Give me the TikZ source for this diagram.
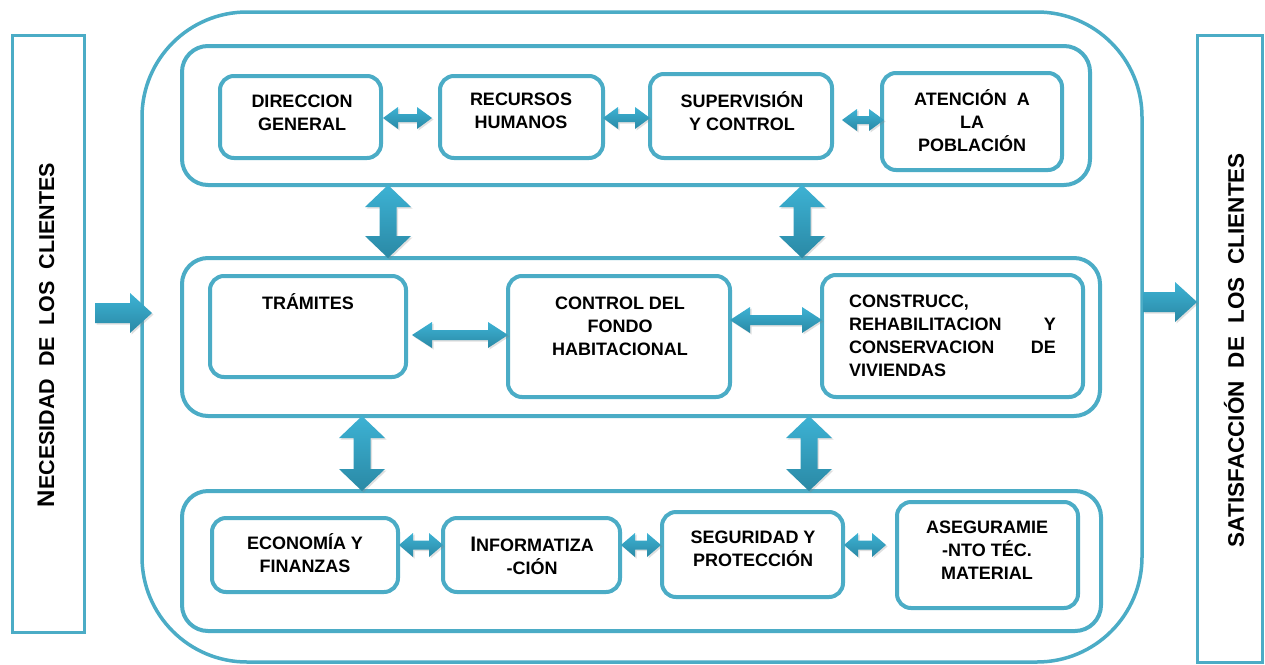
\documentclass[tikz,border=0pt]{standalone}
\usepackage{fontspec}
\setmainfont{Liberation Sans}
\usetikzlibrary{calc,shadows}
\definecolor{boxc}{HTML}{4BACC6}
\definecolor{arrtop}{HTML}{3DB2D4}
\definecolor{arrbot}{HTML}{2A89A5}

% horizontal double block arrow: #1 left end, #2 right end (y of #1 used), #3 half shaft, #4 half head, #5 head length
\newcommand\hdbl[5]{%
 \path[blockarrow] let \p1=(#1), \p2=(#2) in
 (\x1,\y1) -- ({\x1+#5pt},{\y1+#4pt}) -- ({\x1+#5pt},{\y1+#3pt}) -- ({\x2-#5pt},{\y1+#3pt}) -- ({\x2-#5pt},{\y1+#4pt}) -- (\x2,\y1) -- ({\x2-#5pt},{\y1-#4pt}) -- ({\x2-#5pt},{\y1-#3pt}) -- ({\x1+#5pt},{\y1-#3pt}) -- ({\x1+#5pt},{\y1-#4pt}) -- cycle;}
% vertical double block arrow: #1 top end, #2 bottom end (x of #1 used)
\newcommand\vdbl[5]{%
 \path[blockarrow] let \p1=(#1), \p2=(#2) in
 (\x1,\y1) -- ({\x1+#4pt},{\y1-#5pt}) -- ({\x1+#3pt},{\y1-#5pt}) -- ({\x1+#3pt},{\y2+#5pt}) -- ({\x1+#4pt},{\y2+#5pt}) -- (\x1,\y2) -- ({\x1-#4pt},{\y2+#5pt}) -- ({\x1-#3pt},{\y2+#5pt}) -- ({\x1-#3pt},{\y1-#5pt}) -- ({\x1-#4pt},{\y1-#5pt}) -- cycle;}
% single right-pointing block arrow
\newcommand\sarr[5]{%
 \path[blockarrow] let \p1=(#1), \p2=(#2) in
 (\x1,{\y1+#3pt}) -- ({\x2-#5pt},{\y1+#3pt}) -- ({\x2-#5pt},{\y1+#4pt}) -- (\x2,\y1) -- ({\x2-#5pt},{\y1-#4pt}) -- ({\x2-#5pt},{\y1-#3pt}) -- (\x1,{\y1-#3pt}) -- cycle;}

\begin{document}
\begin{tikzpicture}[x=1pt,y=-1pt,
  blockarrow/.style={top color=arrtop, bottom color=arrbot, draw=none,
     drop shadow={opacity=0.25, shadow xshift=1.5pt, shadow yshift=-1.5pt}},
  box/.style={draw=boxc, line width=4pt, rounded corners=14pt, inner sep=0pt, outer sep=0pt, fill=white},
  grp/.style={draw=boxc, line width=4pt, rounded corners=26pt, inner sep=0pt, outer sep=0pt},
  outerbox/.style={draw=boxc, line width=3.5pt, rounded corners=105pt, inner sep=0pt, outer sep=0pt},
  side/.style={draw=boxc, line width=3pt, inner sep=0pt, outer sep=0pt},
  txt/.style={font=\bfseries\fontsize{18}{23}\selectfont, align=center, inner sep=0pt},
  sidetxt/.style={font=\bfseries\fontsize{21.5}{26}\selectfont, inner sep=0pt, rotate=90}]
\fill[white] (0,0) rectangle (1265,664);
\useasboundingbox (0,0) rectangle (1265,664);

% side boxes and outer frame
\node[side, minimum width=72pt, minimum height=597pt] (need) at (48,333.5) {};
\node[side, minimum width=65pt, minimum height=627pt] (sat) at (1229.5,348.5) {};
\node[outerbox, minimum width=1000pt, minimum height=650pt] (outer) at (642,337) {};

% group boxes
\node[grp, minimum width=908pt, minimum height=139pt] (top) at (636,115.5) {};
\node[grp, minimum width=918pt, minimum height=158pt] (mid) at (641,337) {};
\node[grp, minimum width=919pt, minimum height=140pt] (bot) at (641.5,561) {};

% top row
\node[box, minimum width=161pt, minimum height=82pt] (dir) at (300.5,117) {};
\node[box, minimum width=163pt, minimum height=82pt] (rec) at (521.5,117) {};
\node[box, minimum width=182pt, minimum height=84pt] (sup) at (741,116) {};
\node[box, minimum width=180pt, minimum height=97pt] (ate) at (972,121.5) {};
% middle row
\node[box, minimum width=196pt, minimum height=101pt] (tra) at (308,326.5) {};
\node[box, minimum width=222pt, minimum height=121pt] (con) at (619,336.5) {};
\node[box, minimum width=261pt, minimum height=122pt] (cons) at (952.5,336) {};
% bottom row
\node[box, minimum width=186pt, minimum height=74pt] (eco) at (305,555) {};
\node[box, minimum width=177pt, minimum height=74pt] (inf) at (531.5,555) {};
\node[box, minimum width=181pt, minimum height=85pt] (seg) at (752.5,554.5) {};
\node[box, minimum width=181pt, minimum height=106pt] (ase) at (987.5,555) {};

% texts
\node[sidetxt] (tneed) at (46,335) {\makebox[344pt][s]{{\fontsize{24}{26}\selectfont N}ECESIDAD DE LOS CLIENTES}};
\node[sidetxt, font=\bfseries\fontsize{22.5}{26}\selectfont] (tsat) at (1234,350) {\makebox[394pt][s]{SATISFACCIÓN DE LOS CLIENTES}};

\node[txt] (tdir) at (302,112.5) {DIRECCION\\GENERAL};
\node[txt] (trec) at (521,111) {RECURSOS\\HUMANOS};
\node[txt] (tsup) at (742,111) {SUPERVISIÓN\\Y CONTROL};
\node[txt] (tate) at (972,121) {ATENCIÓN\ \ A\\LA\\POBLACIÓN};
\node[txt] (ttra) at (308,302) {TRÁMITES};
\node[txt] (tcon) at (620,326) {CONTROL DEL\\FONDO\\HABITACIONAL};
\node[txt, text width=207pt, align=left] (tcons) at (952.5,336) {CONSTRUCC,\\REHABILITACION\hfill Y\\CONSERVACION\hfill DE\\VIVIENDAS};
\node[txt] (teco) at (305,553) {ECONOMÍA Y\\FINANZAS};
\node[txt] (tinf) at (532,555.5) {{\fontsize{21}{23}\selectfont I}NFORMATIZA\\-CIÓN};
\node[txt] (tseg) at (753,549) {SEGURIDAD Y\\PROTECCIÓN};
\node[txt] (tase) at (987,550.5) {ASEGURAMIE\\-NTO TÉC.\\MATERIAL};

% horizontal connectors
\hdbl{$(dir.east)+(2,1)$}{$(rec.west)+(-8,0)$}{4}{11}{15}
\hdbl{$(rec.east)+(0,1)$}{sup.west}{4}{11}{15}
\hdbl{$(sup.east)+(10,4)$}{$(ate.west)+(2,0)$}{4}{11}{15}
\hdbl{$(tra.east)+(6,8.5)$}{con.west}{5}{13}{20}
\hdbl{$(con.east)+(0,-16.5)$}{cons.west}{5}{13}{20}
\hdbl{$(eco.east)+(1,-10)$}{inf.west}{4.5}{12}{14}
\hdbl{$(inf.east)+(1,-10)$}{$(seg.west)+(-1,0)$}{4.5}{12}{14}
\hdbl{$(seg.east)+(1,-9.5)$}{$(ase.west)+(-11,0)$}{4.5}{12}{14}

% vertical connectors
\vdbl{$(top.south west)+(206,0)$}{mid.north}{8.5}{23}{22}
\vdbl{$(top.south west)+(620,0)$}{mid.north}{8.5}{23}{22}
\vdbl{$(mid.south west)+(180,0)$}{bot.north}{8.5}{23}{22}
\vdbl{$(mid.south west)+(627,0)$}{bot.north}{8.5}{23}{22}

% input / output arrows
\coordinate (inA) at (95,313);
\coordinate (outA) at (1143,302);
\sarr{inA}{$(outer.west)+(10,0)$}{10}{20}{22}
\sarr{outA}{sat.west}{10}{20}{22}
\end{tikzpicture}
\end{document}
